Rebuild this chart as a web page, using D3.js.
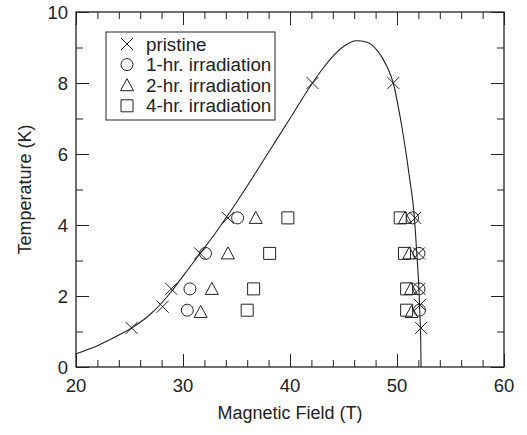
<!DOCTYPE html>
<html><head><meta charset="utf-8">
<script src="https://cdn.jsdelivr.net/npm/d3@7"></script>
<style>body{margin:0;background:#fff}svg{display:block}text{font-family:"Liberation Sans",Arial,Helvetica,sans-serif;fill:#222}</style>
</head><body><svg id="c" width="527" height="435"></svg>
<script>
// Data
const pristineB = [25.2, 28.1, 28.9, 31.6, 34.2, 42.1, 49.65, 51.7, 52.05, 52.1, 52.15, 52.25];
const pristineT = [1.1, 1.7, 2.2, 3.2, 4.2, 8.0, 8.0, 4.2, 3.2, 2.2, 1.75, 1.1];
const irr1B = [30.4, 30.65, 32.1, 35.1, 51.45, 52.05, 52.05, 52.1];
const irr1T = [1.6, 2.2, 3.2, 4.2, 4.2, 3.2, 2.2, 1.6];
const irr2B = [31.65, 32.7, 34.2, 36.8, 50.75, 51.15, 51.3, 51.35];
const irr2T = [1.55, 2.2, 3.2, 4.2, 4.2, 3.2, 2.2, 1.55];
const irr4B = [36.0, 36.6, 38.1, 39.8, 50.3, 50.7, 50.9, 50.9];
const irr4T = [1.6, 2.2, 3.2, 4.2, 4.2, 3.2, 2.2, 1.6];
// fitted phase boundary curve
const curveB = [20, 22, 24, 25.2, 27, 28.9, 30, 31.6, 33, 34.2, 36, 38, 40, 42.1, 43, 44, 45, 46.2, 47.2, 48.2, 49, 49.65, 50.2, 50.6, 51.2, 51.6, 51.85, 52.05, 52.15, 52.22, 52.25];
const curveT = [0.37, 0.6, 0.9, 1.1, 1.5, 2.12, 2.56, 3.2, 3.76, 4.28, 5.1, 6.05, 7.0, 8.0, 8.38, 8.75, 9.03, 9.19, 9.15, 8.9, 8.5, 8.0, 7.2, 6.5, 5.27, 4.3, 3.2, 2.2, 1.4, 0.7, 0];
const xTicks = [20, 30, 40, 50, 60];
const yTicks = [0, 2, 4, 6, 8, 10];
const legendLabels = ["pristine", "1-hr. irradiation", "2-hr. irradiation", "4-hr. irradiation"];

const svg = d3.select("#c");
const L = 76, R = 504, T = 12, B = 367;
const x = d3.scaleLinear().domain([20, 60]).range([L, R]);
const y = d3.scaleLinear().domain([0, 10]).range([B, T]);
const ink = "#222";

function axisTicks(axisGen, tr, vals, size) {
  svg.append("g").attr("transform", tr)
    .call(axisGen.tickValues(vals).tickSize(size).tickFormat(""))
    .call(g => g.select(".domain").remove())
    .call(g => g.selectAll("line").attr("stroke", ink).attr("stroke-width", 1));
}
const xMinor = d3.range(22, 60, 2).filter(v => v % 10 !== 0);
const yMinor = d3.range(1, 10, 2);
axisTicks(d3.axisTop(x), `translate(0,${B})`, xTicks, 13);
axisTicks(d3.axisTop(x), `translate(0,${B})`, xMinor, 7);
axisTicks(d3.axisBottom(x), `translate(0,${T})`, xTicks, 13);
axisTicks(d3.axisBottom(x), `translate(0,${T})`, xMinor, 7);
axisTicks(d3.axisRight(y), `translate(${L},0)`, yTicks, 13);
axisTicks(d3.axisRight(y), `translate(${L},0)`, yMinor, 7);
axisTicks(d3.axisLeft(y), `translate(${R},0)`, yTicks, 13);
axisTicks(d3.axisLeft(y), `translate(${R},0)`, yMinor, 7);

svg.append("rect").attr("x", L).attr("y", T).attr("width", R - L).attr("height", B - T)
  .attr("fill", "none").attr("stroke", ink).attr("stroke-width", 1.3);

svg.append("g").selectAll("text").data(xTicks).join("text")
  .attr("x", d => x(d)).attr("y", B + 25).attr("text-anchor", "middle")
  .attr("font-size", 18.5).text(d => d);
svg.append("g").selectAll("text").data(yTicks).join("text")
  .attr("x", L - 8).attr("y", d => y(d) + 6.5).attr("text-anchor", "end")
  .attr("font-size", 18.5).text(d => d);

svg.append("text").attr("x", (L + R) / 2).attr("y", 419).attr("text-anchor", "middle")
  .attr("font-size", 18).text("Magnetic Field (T)");
svg.append("text").attr("transform", `translate(31,${(T + B) / 2}) rotate(-90)`)
  .attr("text-anchor", "middle").attr("font-size", 18).text("Temperature (K)");

const line = d3.line().x(d => x(d[0])).y(d => y(d[1])).curve(d3.curveMonotoneX);
svg.append("path").datum(curveB.map((b, i) => [b, curveT[i]]))
  .attr("d", line).attr("fill", "none").attr("stroke", ink).attr("stroke-width", 1.1);

const s = 6;
const shapes = {
  x: `M${-s},${-s}L${s},${s}M${-s},${s}L${s},${-s}`,
  circle: `M${s},0A${s},${s} 0 1,1 ${-s},0A${s},${s} 0 1,1 ${s},0Z`,
  tri: `M0,${-6.5}L${6.5},${5.5}L${-6.5},${5.5}Z`,
  square: `M${-6},${-6}H6V6H-6Z`
};
const series = [
  {B: irr4B, T: irr4T, shape: "square"},
  {B: irr2B, T: irr2T, shape: "tri"},
  {B: irr1B, T: irr1T, shape: "circle"},
  {B: pristineB, T: pristineT, shape: "x"}
];
series.forEach(sr => {
  svg.append("g").selectAll("path").data(sr.B.map((b, i) => [b, sr.T[i]])).join("path")
    .attr("transform", d => `translate(${x(d[0])},${y(d[1])})`)
    .attr("d", shapes[sr.shape]).attr("fill", "none").attr("stroke", ink).attr("stroke-width", 1);
});

const lg = svg.append("g");
lg.append("rect").attr("x", 106).attr("y", 32).attr("width", 169).attr("height", 88)
  .attr("fill", "#fff").attr("stroke", ink).attr("stroke-width", 1);
const lShapes = ["x", "circle", "tri", "square"];
legendLabels.forEach((lab, i) => {
  const cy = 44 + i * 20.6;
  lg.append("path").attr("transform", `translate(127,${cy})`).attr("d", shapes[lShapes[i]])
    .attr("fill", "none").attr("stroke", ink).attr("stroke-width", 1);
  lg.append("text").attr("x", 146).attr("y", cy + 6.5).attr("font-size", 18.8).text(lab);
});
</script></body></html>
